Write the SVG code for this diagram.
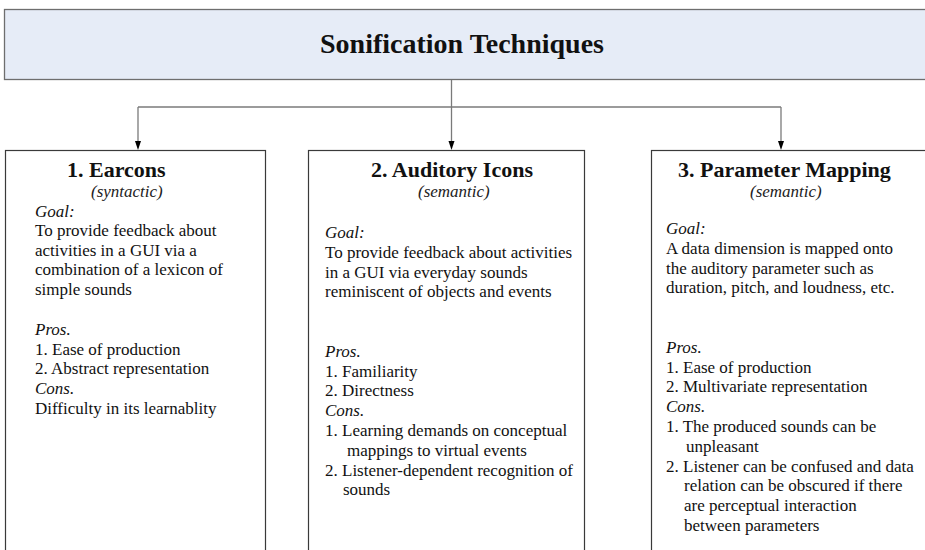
<svg xmlns="http://www.w3.org/2000/svg" width="925" height="550" viewBox="0 0 925 550">
  <defs>
    <style>
      .hdr { fill: #e6ecf7; stroke: #6e6e6e; stroke-width: 1.3; }
      .box { fill: #ffffff; stroke: #3a3a3a; stroke-width: 1.2; }
      .title { font-family: "Liberation Serif", "Times New Roman", serif; font-weight: bold; font-size: 28px; fill: #111; }
      .name { font-family: "Liberation Serif", "Times New Roman", serif; font-weight: bold; font-size: 22px; fill: #111; }
      .sub { font-family: "Liberation Serif", "Times New Roman", serif; font-style: italic; font-size: 17px; fill: #222; }
      .txt { font-family: "Liberation Serif", "Times New Roman", serif; font-size: 17px; fill: #111; }
      .it { font-style: italic; }
      .wire { fill: none; stroke: #7a7a7a; stroke-width: 1.3; }
      .head { fill: #000; }
    </style>
  </defs>

  <rect width="925" height="550" fill="#ffffff"/>

  <!-- Header -->
  <g id="header">
    <rect class="hdr" x="4.5" y="9.5" width="930" height="70"/>
    <text class="title" x="462" y="53" text-anchor="middle">Sonification Techniques</text>
  </g>

  <!-- Connectors: trunk, bus and three drops with arrowheads -->
  <g id="connectors">
    <path class="wire" d="M451.5,80 V141"/>
    <path class="wire" d="M138,107 H781"/>
    <path class="wire" d="M138,107 V141"/>
    <path class="wire" d="M781,107 V141"/>
    <path class="head" d="M448.5,141 L454.5,141 L451.5,150 Z"/>
    <path class="head" d="M135,141 L141,141 L138,150 Z"/>
    <path class="head" d="M778,141 L784,141 L781,150 Z"/>
  </g>

  <!-- 1. Earcons -->
  <g id="earcons">
    <rect class="box" x="5.5" y="150.5" width="260" height="420"/>
    <text class="name" x="67" y="177">1. Earcons</text>
    <text class="sub" x="91" y="197">(syntactic)</text>
    <text class="txt it" x="35" y="216.5">Goal:</text>
    <text class="txt" x="35" y="235.8">To provide feedback about</text>
    <text class="txt" x="35" y="255.6">activities in a GUI via a</text>
    <text class="txt" x="35" y="275.4">combination of a lexicon of</text>
    <text class="txt" x="35" y="295.2">simple sounds</text>
    <text class="txt it" x="35" y="334.8">Pros.</text>
    <text class="txt" x="35" y="354.6">1. Ease of production</text>
    <text class="txt" x="35" y="374.4">2. Abstract representation</text>
    <text class="txt it" x="35" y="394.2">Cons.</text>
    <text class="txt" x="35" y="414">Difficulty in its learnablity</text>
  </g>

  <!-- 2. Auditory Icons -->
  <g id="auditory-icons">
    <rect class="box" x="308.5" y="150.5" width="276" height="420"/>
    <text class="name" x="371" y="177">2. Auditory Icons</text>
    <text class="sub" x="418" y="197">(semantic)</text>
    <text class="txt it" x="325" y="238">Goal:</text>
    <text class="txt" x="325" y="257.8">To provide feedback about activities</text>
    <text class="txt" x="325" y="277.6">in a GUI via everyday sounds</text>
    <text class="txt" x="325" y="297.4">reminiscent of objects and events</text>
    <text class="txt it" x="325" y="356.8">Pros.</text>
    <text class="txt" x="325" y="376.6">1. Familiarity</text>
    <text class="txt" x="325" y="396.4">2. Directness</text>
    <text class="txt it" x="325" y="416.2">Cons.</text>
    <text class="txt" x="325" y="436">1. Learning demands on conceptual</text>
    <text class="txt" x="347" y="455.8">mappings to virtual events</text>
    <text class="txt" x="325" y="475.6">2. Listener-dependent recognition of</text>
    <text class="txt" x="343" y="495.4">sounds</text>
  </g>

  <!-- 3. Parameter Mapping -->
  <g id="parameter-mapping">
    <rect class="box" x="651.5" y="150.5" width="300" height="420"/>
    <text class="name" x="678" y="177">3. Parameter Mapping</text>
    <text class="sub" x="750" y="197">(semantic)</text>
    <text class="txt it" x="666" y="234">Goal:</text>
    <text class="txt" x="666" y="253.8">A data dimension is mapped onto</text>
    <text class="txt" x="666" y="273.6">the auditory parameter such as</text>
    <text class="txt" x="666" y="293.4">duration, pitch, and loudness, etc.</text>
    <text class="txt it" x="666" y="352.8">Pros.</text>
    <text class="txt" x="666" y="372.6">1. Ease of production</text>
    <text class="txt" x="666" y="392.4">2. Multivariate representation</text>
    <text class="txt it" x="666" y="412.2">Cons.</text>
    <text class="txt" x="666" y="432">1. The produced sounds can be</text>
    <text class="txt" x="686" y="451.8">unpleasant</text>
    <text class="txt" x="666" y="471.6">2. Listener can be confused and data</text>
    <text class="txt" x="684" y="491.4">relation can be obscured if there</text>
    <text class="txt" x="684" y="511.2">are perceptual interaction</text>
    <text class="txt" x="684" y="531">between parameters</text>
  </g>
</svg>
